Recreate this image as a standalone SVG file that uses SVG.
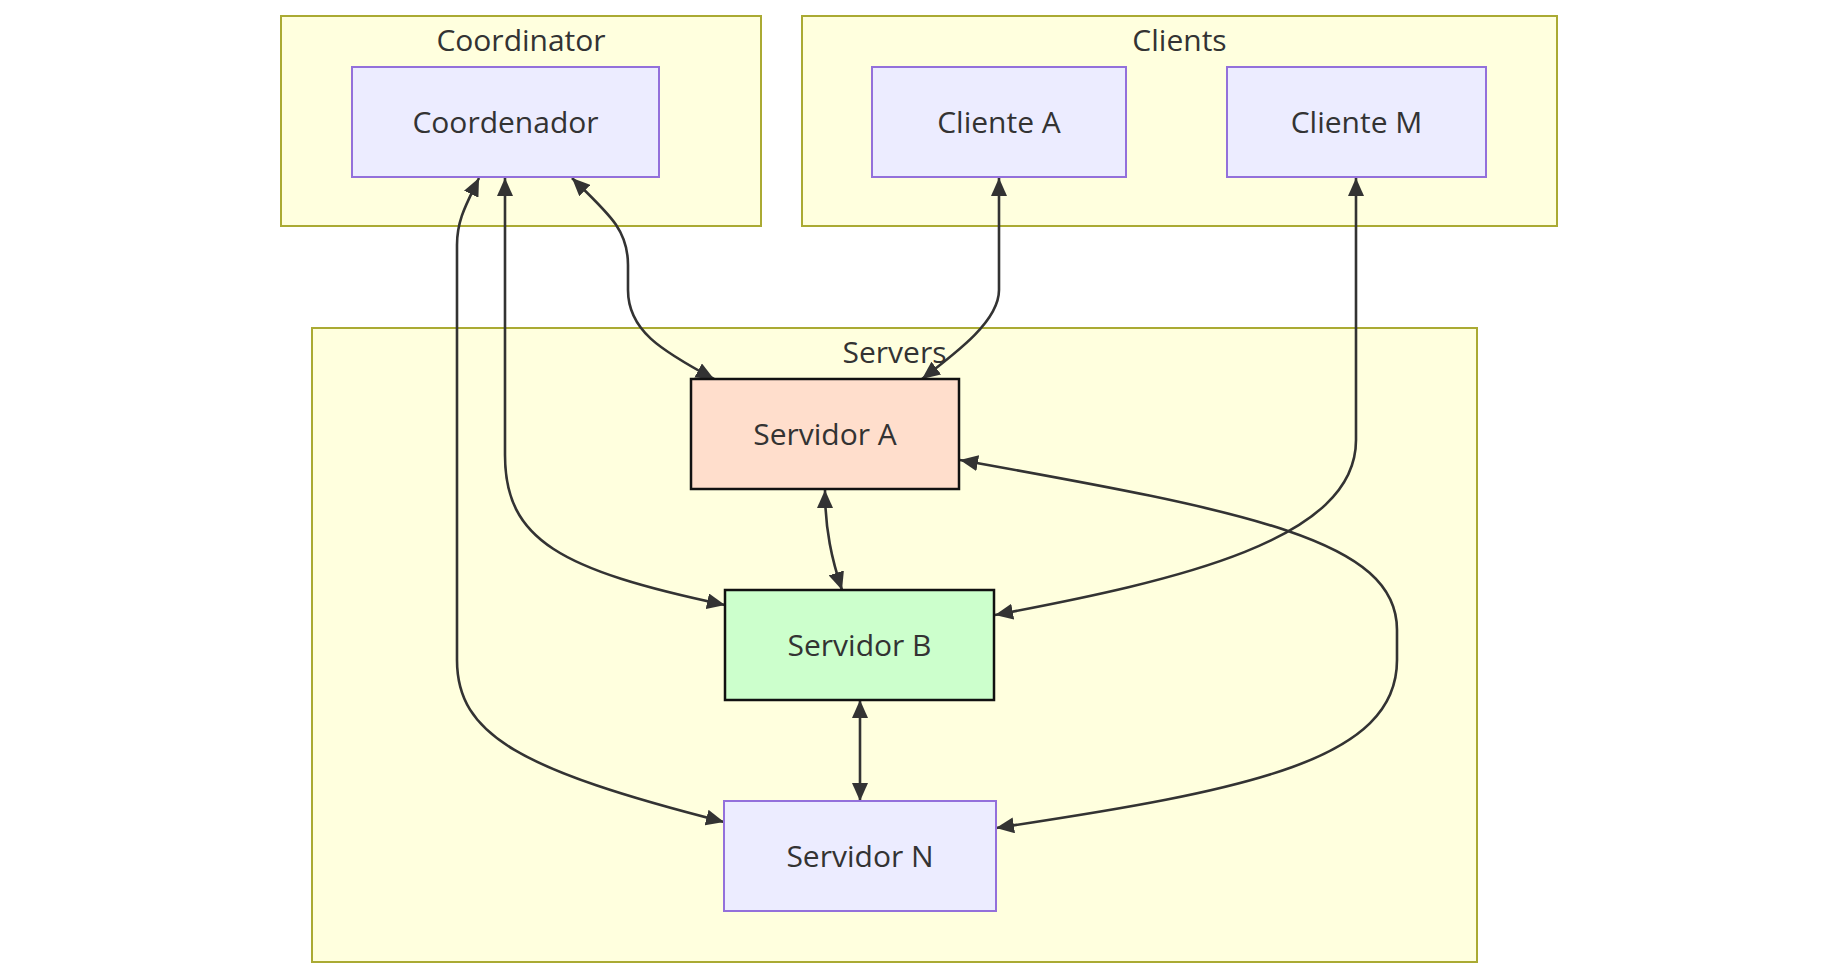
<svg xmlns="http://www.w3.org/2000/svg" width="1838" height="978" viewBox="0 0 1838 978">
<style>
  .cluster rect { fill: #ffffde; stroke: #aaaa33; stroke-width: 2; }
  .node rect { fill: #ececff; stroke: #9370db; stroke-width: 2; }
  .nodeA rect { fill: #ffdecc; stroke: #111; stroke-width: 2.5; }
  .nodeB rect { fill: #ccffcc; stroke: #111; stroke-width: 2.5; }
  text { font-family: "Open Sans", "Noto Sans", sans-serif; font-size: 30px; fill: #333; text-anchor: middle; }
  .edge { fill: none; stroke: #333; stroke-width: 2.6; marker-start: url(#arr); marker-end: url(#arr); }
</style>
<defs>
  <marker id="arr" viewBox="0 0 18 16" refX="18" refY="8" markerUnits="userSpaceOnUse" markerWidth="18" markerHeight="16" orient="auto-start-reverse">
    <path d="M0,0 L18,8 L0,16 z" fill="#333"/>
  </marker>
</defs>
<rect width="1838" height="978" fill="#ffffff"/>

<g id="cluster-coordinator" class="cluster">
  <rect x="281" y="16" width="480" height="210"/>
  <text x="521" y="51">Coordinator</text>
</g>
<g id="cluster-clients" class="cluster">
  <rect x="802" y="16" width="755" height="210"/>
  <text x="1179.5" y="51">Clients</text>
</g>
<g id="cluster-servers" class="cluster">
  <rect x="312" y="328" width="1165" height="634"/>
  <text x="894.5" y="363">Servers</text>
</g>

<g id="connectors">
  <path class="edge" d="M479,178 C466,205 457,220 457,245 L457,660 C457,735 520,770 724,822"/>
  <path class="edge" d="M505,178 L505,455 C505,540 560,570 725,605"/>
  <path class="edge" d="M572,178 C610,215 628,230 628,265 L628,290 C628,330 660,350 714,379"/>
  <path class="edge" d="M999,178 L999,290 C999,320 960,350 922,379"/>
  <path class="edge" d="M1356,178 L1356,440 C1356,540 1180,580 995,615"/>
  <path class="edge" d="M960,460 C1250,512 1397,540 1397,630 L1397,660 C1397,760 1250,790 996,828"/>
  <path class="edge" d="M825,490 C825,530 832,560 842,590"/>
  <path class="edge" d="M860,700 L860,801"/>
</g>

<g id="node-coordenador" class="node">
  <rect x="352" y="67" width="307" height="110"/>
  <text x="505.5" y="132.5">Coordenador</text>
</g>
<g id="node-cliente-a" class="node">
  <rect x="872" y="67" width="254" height="110"/>
  <text x="999" y="132.5">Cliente A</text>
</g>
<g id="node-cliente-m" class="node">
  <rect x="1227" y="67" width="259" height="110"/>
  <text x="1356.5" y="132.5">Cliente M</text>
</g>
<g id="node-servidor-a" class="nodeA">
  <rect x="691" y="379" width="268" height="110"/>
  <text x="825" y="444.5">Servidor A</text>
</g>
<g id="node-servidor-b" class="nodeB">
  <rect x="725" y="590" width="269" height="110"/>
  <text x="859.5" y="655.5">Servidor B</text>
</g>
<g id="node-servidor-n" class="node">
  <rect x="724" y="801" width="272" height="110"/>
  <text x="860" y="866.5">Servidor N</text>
</g>
</svg>
